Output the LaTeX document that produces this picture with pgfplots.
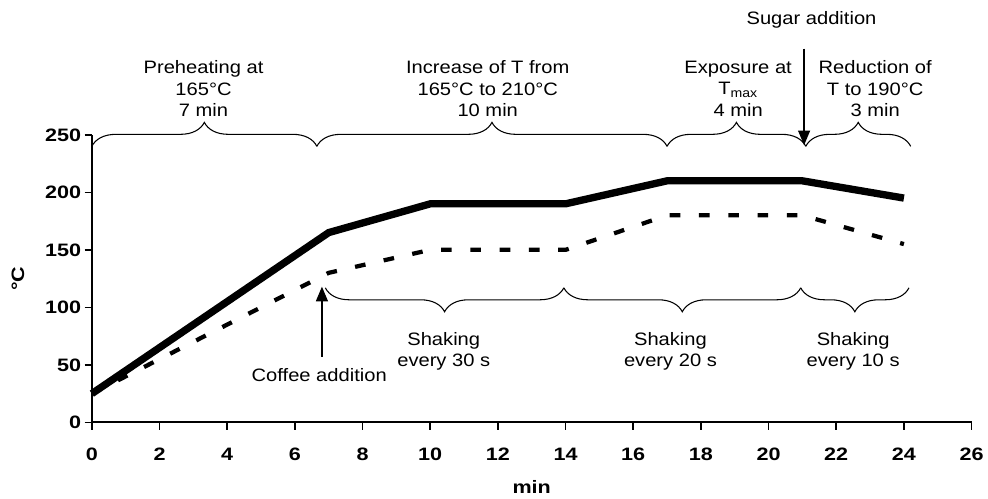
\documentclass[border=0pt]{standalone}
\usepackage{pgfplots}
\pgfplotsset{compat=1.18}
\usepackage{fontspec}
\setmainfont[FakeStretch=1.12]{Liberation Sans}
\newfontfamily\tickfont[FakeStretch=1.2]{Liberation Sans}
\usetikzlibrary{decorations.pathreplacing,arrows.meta}
\pgfplotstableread{
x y
0 25
7 165
10 190
14 190
17 210
21 210
24 195
}\solid
\pgfplotstableread{
x y
0 25
7 130
10 150
14 150
17 180
21 180
24 155
}\dashed
\begin{document}
\begin{tikzpicture}
\begin{axis}[
  scale only axis, width=660.75pt, height=216pt,
  xmin=0, xmax=26, ymin=0, ymax=250,
  axis x line*=bottom, axis y line*=left,
  tick align=outside,
  xtick={0,2,...,26}, ytick={0,50,...,250},
  major tick length=5.5pt,
  tick style={line width=1.2pt, black},
  axis line style={line width=1.4pt},
  /pgf/number format/assume math mode=true,
  ticklabel style={font=\fontsize{13.5}{16}\tickfont\bfseries},
  yticklabel style={xshift=1pt},
  xticklabel style={yshift=-10pt},
  xlabel={min}, ylabel={°C},
  every axis y label/.style={at={(axis description cs:-0.084,0.5)}, rotate=90, anchor=center, font=\fontsize{13.5}{16}\tickfont\bfseries},
  every axis x label/.style={at={(axis description cs:0.5,-0.226)}, anchor=center, font=\fontsize{13.5}{16}\tickfont\bfseries},
  clip=false,
]
\addplot[black, line width=5.5pt, line join=miter] table {\solid};
\addplot[black, line width=3.2pt, dash pattern=on 8pt off 14pt] table {\dashed};

% top braces
\begin{scope}[line width=0.8pt, decoration={brace, amplitude=18pt}]
\draw[decorate] (axis cs:0,240) -- (axis cs:6.65,240);
\draw[decorate] (axis cs:6.65,240) -- (axis cs:17.0,240);
\draw[decorate] (axis cs:17.0,240) -- (axis cs:21.1,240);
\draw[decorate] (axis cs:21.1,240) -- (axis cs:24.2,240);
% bottom braces
\draw[decorate] (axis cs:13.95,117) -- (axis cs:6.9,117);
\draw[decorate] (axis cs:20.95,117) -- (axis cs:13.95,117);
\draw[decorate] (axis cs:24.15,117) -- (axis cs:20.95,117);
\end{scope}

\begin{scope}[every node/.style={font=\fontsize{13.5}{16.1}\selectfont, align=center, inner sep=0pt}]
\node at (axis cs:3.3,290) {Preheating at\\165°C\\7 min};
\node at (axis cs:11.7,290) {Increase of T from\\165°C to 210°C\\10 min};
\node at (axis cs:19.1,290) {Exposure at\\T\textsubscript{max}\\4 min};
\node at (axis cs:23.15,290) {Reduction of\\T to 190°C\\3 min};
\node at (axis cs:21.27,350) {Sugar addition};
\node at (axis cs:10.4,61.6) {Shaking\\every 30 s};
\node at (axis cs:17.1,61.6) {Shaking\\every 20 s};
\node at (axis cs:22.5,61.6) {Shaking\\every 10 s};
\node at (axis cs:6.72,41.5) {Coffee addition};
\end{scope}

\draw[line width=1pt, -{Triangle[width=9pt,length=11pt]}] (axis cs:6.8,57) -- (axis cs:6.8,118);
\draw[line width=1pt, -{Triangle[width=9pt,length=11pt]}] (axis cs:21.05,325) -- (axis cs:21.05,241);

\path (axis cs:-2.715,-65.1) rectangle (axis cs:26.45,367.2);
\end{axis}
\end{tikzpicture}
\end{document}
